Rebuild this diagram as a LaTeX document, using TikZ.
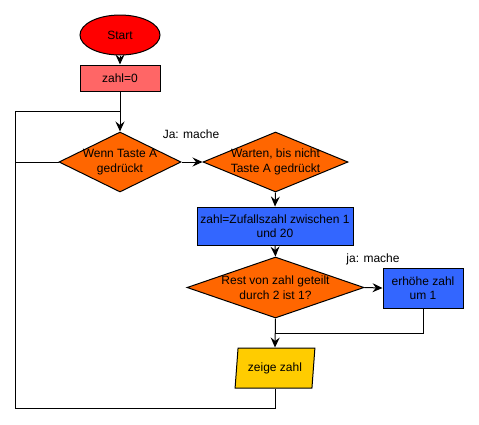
\documentclass[tikz,border=0pt]{standalone}
\usepackage{fontspec}
\setmainfont{Liberation Sans}
\usetikzlibrary{shapes.geometric,arrows.meta}
\definecolor{cstart}{HTML}{FF0000}
\definecolor{cinit}{HTML}{FF6666}
\definecolor{cdia}{HTML}{FF6600}
\definecolor{cblue}{HTML}{3366FF}
\definecolor{cyel}{HTML}{FFCC00}
\begin{document}
\begin{tikzpicture}[x=1pt,y=-1pt,
  every node/.style={font=\fontsize{12}{14.5}\selectfont, text=black},
  base/.style={draw=black, line width=1pt, inner sep=0pt, align=center},
  boxnode/.style={base, rectangle},
  dianode/.style={base, diamond},
  arr/.style={line width=1pt, -{Stealth[length=10pt,width=9pt,inset=3.5pt]}},
  ln/.style={line width=1pt},
  lbl/.style={font=\fontsize{12}{14.5}\selectfont}]
\useasboundingbox (0,0) rectangle (479,424);

\node[base, ellipse, fill=cstart, minimum width=80pt, minimum height=40pt] (start) at (120,35) {Start};
\node[boxnode, fill=cinit, minimum width=80pt, minimum height=26pt] (z0) at (120,78) {zahl=0};
\node[dianode, fill=cdia, minimum width=122pt, minimum height=60pt,
  label={[align=center]center:{Wenn Taste A\\gedrückt}}] (d1) at (120,162) {};
\node[dianode, fill=cdia, minimum width=145pt, minimum height=60pt,
  label={[align=center]center:{Warten, bis nicht\\Taste A gedrückt}}] (d2) at (275.5,162) {};
\node[boxnode, fill=cblue, minimum width=156pt, minimum height=38pt] (b1) at (275,226) {zahl=Zufallszahl zwischen 1\\und 20};
\node[dianode, fill=cdia, minimum width=177pt, minimum height=61pt,
  label={[align=center]center:{Rest von zahl geteilt\\durch 2 ist 1?}}] (d3) at (275.5,287.5) {};
\node[boxnode, fill=cblue, minimum width=80pt, minimum height=40pt] (b2) at (423,288) {erhöhe zahl\\um 1};
\node[base, trapezium, trapezium left angle=79, trapezium right angle=101, trapezium stretches=true,
  fill=cyel, minimum width=80pt, minimum height=40pt] (p) at (275,368) {zeige zahl};

\node[lbl] (l1) at (191,134) {Ja: mache};
\node[lbl] (l2) at (373,259) {ja: mache};

\coordinate (m) at (275,333);
\coordinate (bl) at (15,408);
\coordinate (tl) at (15,111);
\coordinate (j) at (120,111);

\draw[arr] (start) -- (z0);
\draw[arr] (z0.south) -- (d1.north);
\draw[arr] (d1.east) -- (d2.west);
\draw[arr] (d2.south) -- (b1.north);
\draw[arr] (b1.south) -- (d3.north);
\draw[arr] (d3.east) -- (b2.west);
\draw[arr] (d3.south) -- (p.north);
\draw[ln] (b2.south) |- (m);
\draw[ln] (p.south) |- (bl) -- (tl) -- (j);
\draw[ln] (d1.west) -- (d1.west -| tl);
\end{tikzpicture}
\end{document}
